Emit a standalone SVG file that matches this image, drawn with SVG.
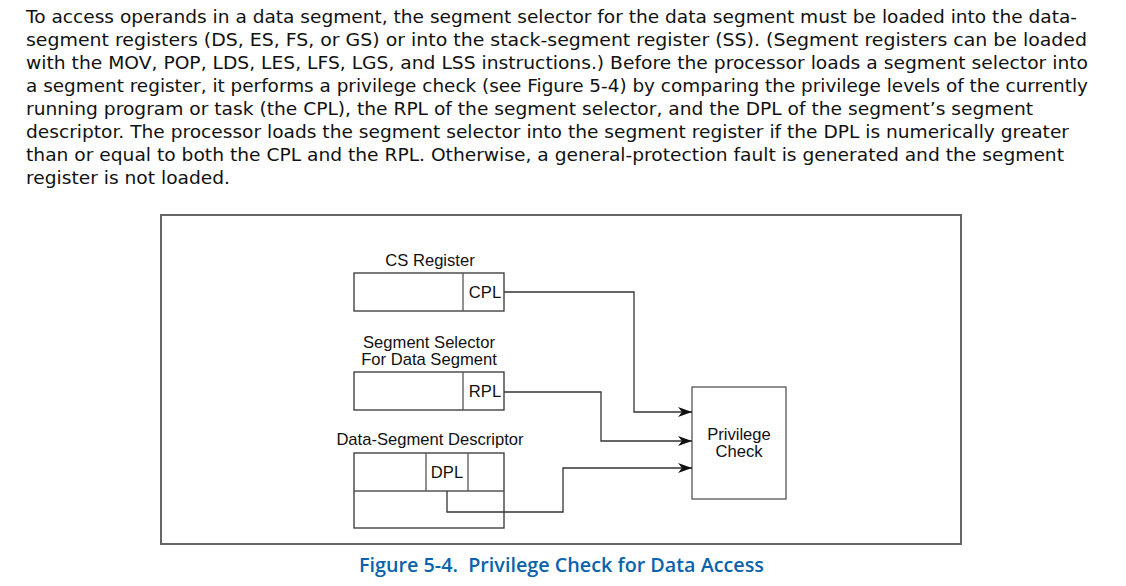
<svg xmlns="http://www.w3.org/2000/svg" width="1126" height="586" viewBox="0 0 1126 586">
<style>
.p{font-family:"DejaVu Sans","Liberation Sans",sans-serif;font-size:18px;fill:#111}
.t{font-family:"Liberation Sans",Arial,sans-serif;font-size:16.6px;fill:#111}
.m{text-anchor:middle}
.box{fill:#fff;stroke:#333;stroke-width:1.3}
.in{fill:none;stroke:#555;stroke-width:1.3}
.c{fill:none;stroke:#333;stroke-width:1.3}
.cap{font-family:"Open Sans","Liberation Sans",sans-serif;font-weight:600;font-size:20px;fill:#0a63ad}
</style>
<defs>
<marker id="ah" markerWidth="14" markerHeight="10" refX="14" refY="5" orient="auto" markerUnits="userSpaceOnUse">
<path d="M0,0 L14,5 L0,10 L4,5 Z" fill="#111"/>
</marker>
</defs>
<rect width="1126" height="586" fill="#fff"/>
<g id="paragraph">
<text class="p" x="26" y="23" textLength="1051" lengthAdjust="spacingAndGlyphs">To access operands in a data segment, the segment selector for the data segment must be loaded into the data-</text>
<text class="p" x="26" y="46" textLength="1061" lengthAdjust="spacingAndGlyphs">segment registers (DS, ES, FS, or GS) or into the stack-segment register (SS). (Segment registers can be loaded</text>
<text class="p" x="26" y="69" textLength="1062" lengthAdjust="spacingAndGlyphs">with the MOV, POP, LDS, LES, LFS, LGS, and LSS instructions.) Before the processor loads a segment selector into</text>
<text class="p" x="26" y="92" textLength="1062" lengthAdjust="spacingAndGlyphs">a segment register, it performs a privilege check (see Figure 5-4) by comparing the privilege levels of the currently</text>
<text class="p" x="26" y="115" textLength="1007" lengthAdjust="spacingAndGlyphs">running program or task (the CPL), the RPL of the segment selector, and the DPL of the segment’s segment</text>
<text class="p" x="26" y="138" textLength="1043" lengthAdjust="spacingAndGlyphs">descriptor. The processor loads the segment selector into the segment register if the DPL is numerically greater</text>
<text class="p" x="26" y="161" textLength="1038" lengthAdjust="spacingAndGlyphs">than or equal to both the CPL and the RPL. Otherwise, a general-protection fault is generated and the segment</text>
<text class="p" x="26" y="184" textLength="204" lengthAdjust="spacingAndGlyphs">register is not loaded.</text>
</g>
<rect id="frame" x="161" y="215" width="800" height="329" fill="none" stroke="#666" stroke-width="2"/>
<g id="cs-register">
<text class="t m" x="430" y="266">CS Register</text>
<rect class="box" x="354" y="273" width="150" height="38"/>
<line class="in" x1="463" y1="273" x2="463" y2="311"/>
<text class="t m" x="485" y="298">CPL</text>
</g>
<g id="segment-selector">
<text class="t m" x="429" y="348">Segment Selector</text>
<text class="t m" x="429" y="365">For Data Segment</text>
<rect class="box" x="354" y="372" width="150" height="38"/>
<line class="in" x1="463" y1="372" x2="463" y2="410"/>
<text class="t m" x="485" y="397">RPL</text>
</g>
<g id="data-segment-descriptor">
<text class="t m" x="430" y="445">Data-Segment Descriptor</text>
<rect class="box" x="354" y="453" width="150" height="75"/>
<line class="in" x1="354" y1="491" x2="504" y2="491"/>
<line class="in" x1="426" y1="453" x2="426" y2="491"/>
<line class="in" x1="468" y1="453" x2="468" y2="491"/>
<text class="t m" x="447" y="478">DPL</text>
</g>
<g id="privilege-check">
<rect class="box" x="692" y="387" width="94" height="112" style="stroke:#555"/>
<text class="t m" x="739" y="440">Privilege</text>
<text class="t m" x="739" y="457">Check</text>
</g>
<g id="connectors">
<polyline class="c" points="504,292 634,292 634,412 692,412" marker-end="url(#ah)"/>
<polyline class="c" points="504,392 601,392 601,441 692,441" marker-end="url(#ah)"/>
<polyline class="c" points="447,491 447,512 563,512 563,468 692,468" marker-end="url(#ah)"/>
</g>
<text id="caption" class="cap" x="359" y="572" textLength="405" lengthAdjust="spacingAndGlyphs">Figure 5-4.&#160; Privilege Check for Data Access</text>
</svg>
